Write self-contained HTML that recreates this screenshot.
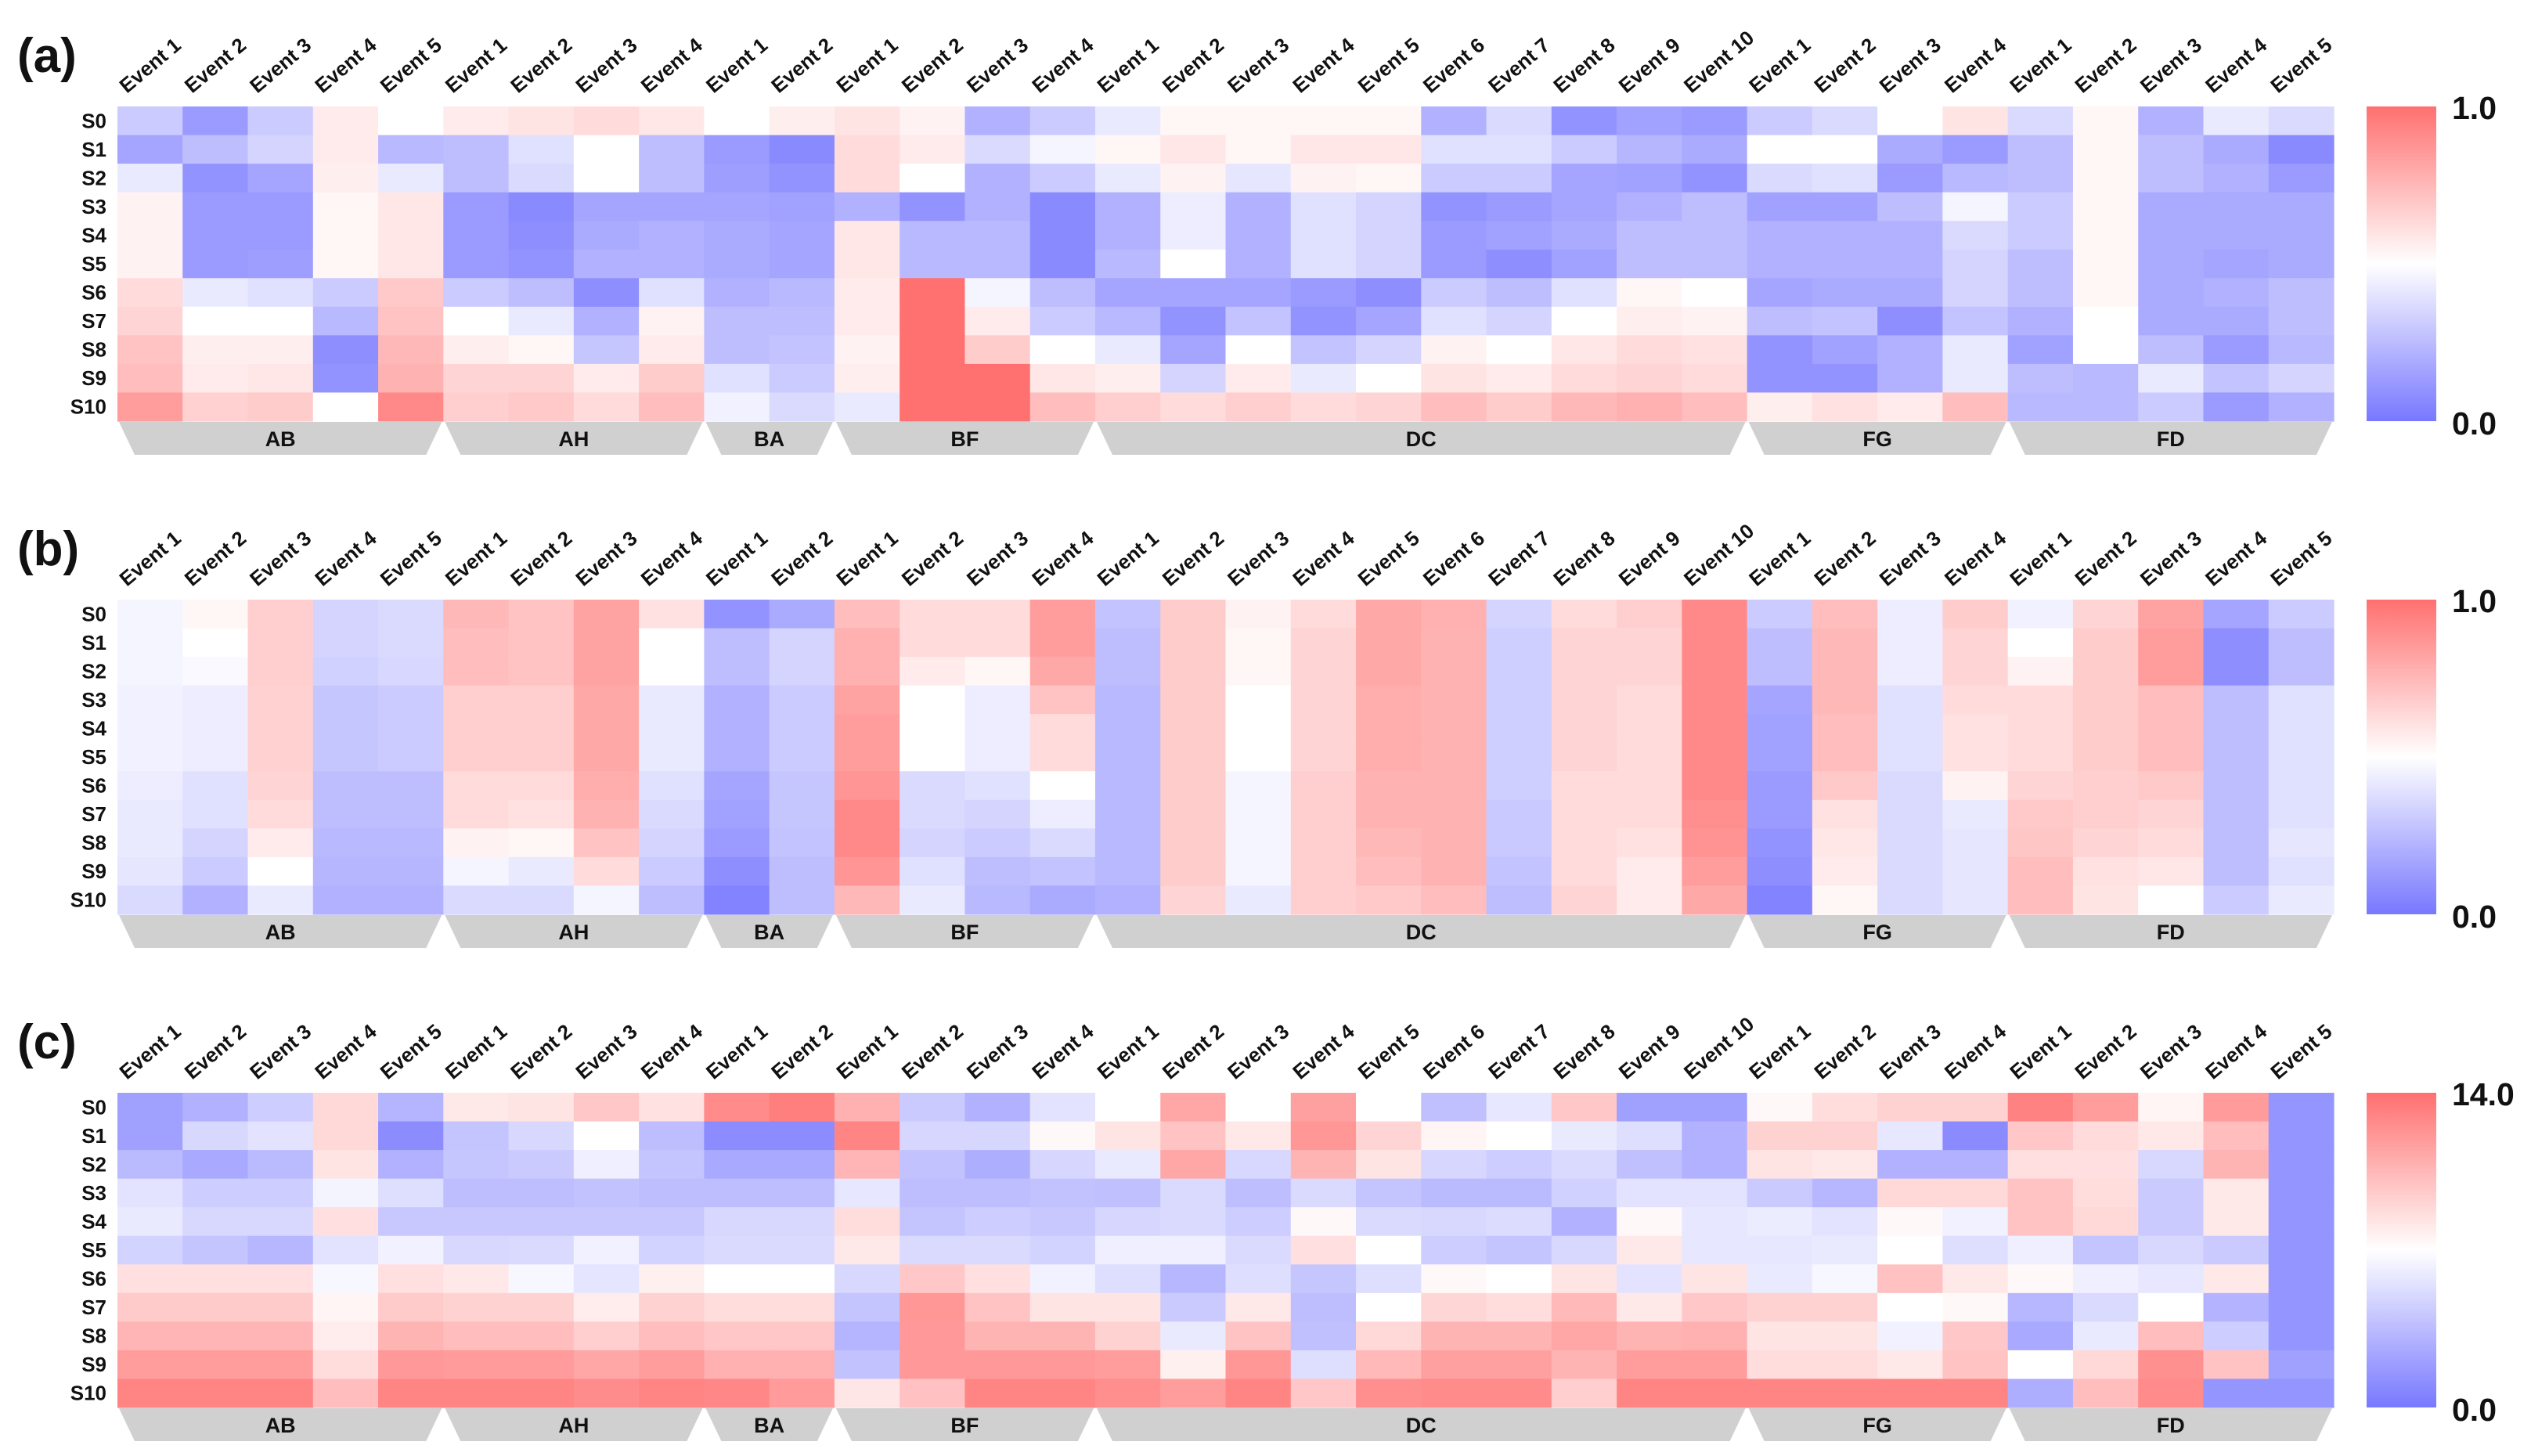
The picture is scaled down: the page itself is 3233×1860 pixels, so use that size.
<!DOCTYPE html>
<html><head><meta charset="utf-8"><style>
html,body{margin:0;padding:0;background:#fff;}
svg{display:block;font-family:"Liberation Sans",Arial,sans-serif;}
</style></head><body>
<svg id="fig" width="3233" height="1860" viewBox="0 0 3233 1860" xmlns="http://www.w3.org/2000/svg">
<defs>
<linearGradient id="cbar" x1="0" y1="0" x2="0" y2="1">
<stop offset="0" stop-color="#ff7070"/><stop offset="0.5" stop-color="#ffffff"/><stop offset="1" stop-color="#7878ff"/>
</linearGradient>
</defs>
</svg>
<script>
const groupNames = ["AB","AH","BA","BF","DC","FG","FD"];
const groupSizes = [5,4,2,4,10,4,5];
const rowLabels = ["S0","S1","S2","S3","S4","S5","S6","S7","S8","S9","S10"];
const panelLabels = ["(a)","(b)","(c)"];
const panelMax = [1.0, 1.0, 14.0];
const maxLabels = ["1.0","1.0","14.0"];
const minLabels = ["0.0","0.0","0.0"];

const panelA = [
[.35,.15,.35,.55,.5, .55,.57,.6,.56, .5,.54, .57,.53,.25,.35, .45,.52,.52,.52,.52,.25,.4,.12,.18,.15, .35,.4,.5,.57, .4,.52,.25,.45,.4],
[.2,.3,.38,.55,.28, .3,.42,.5,.3, .15,.08, .6,.55,.4,.48, .52,.56,.52,.56,.56,.42,.42,.35,.27,.22, .5,.5,.22,.15, .3,.52,.3,.22,.08],
[.45,.12,.2,.54,.45, .3,.4,.5,.3, .17,.12, .6,.5,.25,.35, .45,.53,.44,.53,.52,.35,.35,.2,.18,.12, .4,.42,.15,.28, .3,.52,.3,.25,.15],
[.53,.15,.15,.52,.56, .15,.08,.2,.2, .2,.18, .25,.12,.25,.08, .25,.46,.25,.42,.38,.12,.15,.2,.25,.3, .18,.18,.3,.48, .35,.52,.22,.22,.22],
[.53,.15,.15,.52,.56, .15,.1,.22,.25, .22,.2, .56,.28,.28,.08, .25,.46,.25,.42,.38,.15,.18,.22,.3,.3, .25,.25,.25,.4, .35,.52,.22,.22,.22],
[.53,.15,.17,.52,.56, .15,.12,.25,.25, .22,.2, .56,.28,.28,.08, .28,.5,.25,.42,.38,.15,.1,.18,.3,.3, .25,.25,.25,.38, .3,.52,.22,.2,.22],
[.6,.45,.42,.35,.66, .35,.3,.1,.42, .25,.28, .55,1.0,.48,.3, .2,.2,.2,.15,.1,.35,.3,.42,.52,.5, .2,.22,.22,.38, .3,.52,.22,.25,.3],
[.62,.5,.5,.28,.68, .5,.45,.25,.53, .3,.3, .55,1.0,.55,.35, .28,.12,.32,.12,.2,.42,.38,.5,.54,.53, .3,.32,.1,.32, .25,.5,.22,.22,.3],
[.68,.54,.54,.1,.72, .54,.52,.33,.55, .3,.32, .53,1.0,.65,.5, .45,.2,.5,.32,.38,.53,.5,.56,.6,.58, .12,.18,.25,.45, .18,.5,.3,.15,.28],
[.7,.55,.56,.12,.74, .62,.62,.55,.65, .42,.35, .54,1.0,1.0,.56, .54,.38,.55,.45,.5,.57,.55,.6,.62,.6, .12,.12,.25,.45, .3,.28,.45,.32,.38],
[.82,.63,.65,.5,.9, .64,.66,.6,.7, .47,.4, .45,1.0,1.0,.7, .64,.6,.64,.6,.62,.7,.65,.72,.75,.7, .54,.58,.55,.7, .28,.28,.35,.15,.25]
];

const panelB = [
[.48,.52,.64,.38,.4, .72,.68,.8,.58, .12,.22, .7,.6,.6,.82, .32,.65,.53,.6,.78,.75,.38,.6,.64,.9, .35,.7,.46,.65, .47,.62,.8,.2,.35],
[.48,.5,.64,.38,.4, .7,.68,.8,.5, .3,.38, .75,.6,.6,.82, .3,.65,.52,.62,.78,.74,.36,.62,.62,.9, .3,.72,.46,.62, .5,.65,.82,.1,.3],
[.48,.49,.64,.37,.39, .7,.68,.8,.5, .3,.38, .75,.55,.52,.78, .3,.65,.52,.62,.78,.74,.36,.62,.62,.9, .3,.72,.46,.62, .53,.65,.82,.1,.3],
[.47,.46,.63,.33,.35, .64,.64,.78,.45, .25,.35, .8,.5,.46,.68, .28,.65,.5,.62,.76,.74,.36,.62,.6,.9, .2,.72,.42,.6, .6,.65,.7,.3,.42],
[.47,.46,.63,.33,.35, .64,.64,.78,.45, .25,.35, .82,.5,.46,.6, .28,.65,.5,.62,.76,.74,.36,.62,.6,.9, .18,.7,.42,.58, .6,.65,.7,.3,.42],
[.47,.46,.63,.33,.35, .64,.64,.78,.45, .25,.35, .82,.5,.46,.6, .28,.65,.5,.62,.76,.74,.36,.62,.6,.9, .18,.7,.42,.58, .6,.65,.7,.3,.42],
[.46,.42,.62,.3,.3, .6,.6,.76,.42, .2,.33, .85,.4,.42,.5, .28,.65,.48,.64,.74,.74,.36,.6,.6,.9, .15,.66,.4,.53, .62,.64,.66,.3,.42],
[.45,.42,.6,.3,.3, .6,.58,.74,.4, .18,.33, .9,.4,.38,.46, .28,.65,.48,.64,.74,.74,.34,.6,.6,.88, .15,.58,.4,.45, .66,.64,.62,.3,.42],
[.45,.38,.55,.28,.28, .53,.52,.68,.38, .15,.32, .9,.38,.35,.4, .28,.65,.48,.64,.72,.74,.34,.6,.58,.86, .12,.56,.4,.44, .67,.62,.6,.3,.44],
[.44,.35,.5,.27,.27, .48,.45,.6,.35, .1,.3, .85,.42,.3,.32, .28,.65,.48,.64,.7,.74,.32,.6,.55,.82, .1,.55,.4,.44, .7,.58,.56,.3,.42],
[.4,.25,.45,.25,.25, .4,.4,.48,.3, .05,.3, .72,.45,.28,.22, .25,.62,.45,.64,.66,.7,.3,.62,.55,.78, .05,.52,.4,.44, .7,.57,.5,.35,.45]
];

const panelC = [
[2.5,3.5,5,8.5,3.7, 7.8,8,9.3,8.1, 12.5,13.2, 10.5,4.8,3.5,6, 7,11,7,11.3,7,4.3,6.2,9.3,2.5,2.5, 7.2,8.3,8.8,8.8, 13,11.5,7.3,11.6,1.8],
[2.5,5.5,6,8.5,1.3, 4.5,5.5,7,4.2, 1.3,1.3, 12.8,5.4,5.4,7.2, 8,9.5,7.8,11.8,8.7,7.3,7,6.3,5.8,3.5, 8.8,8.8,6.2,1.2, 9.3,8.4,7.8,9.8,1.8],
[4,3,4,8,3.5, 4.6,4.8,6.5,4.5, 3,3, 10.2,4.4,3.3,5.4, 6.3,11,5.5,10.3,8,5.4,5,5.6,4.3,3.5, 8,7.8,3.5,3.5, 8.2,8.2,5.5,10.3,1.8],
[6,5,5,6.7,5.8, 4.2,4.2,4.4,4.2, 4.2,4.2, 6.2,4.2,4.2,4.4, 4.3,5.6,4.2,5.6,4.5,4,4,5.2,6,6, 4.8,3.8,8.5,8.5, 9.5,8.3,4.8,7.8,1.8],
[6.3,5.5,5.5,8.2,4.7, 4.7,4.7,4.7,4.7, 5.5,5.5, 8.3,4.5,5,4.7, 5.4,5.6,5,7.2,5.6,5.5,5.7,3.5,7.2,6.2, 6.4,6,7.2,6.6, 9.5,8.5,4.8,7.8,1.8],
[5.3,4.5,3.8,6,6.6, 5.5,5.6,6.6,5.3, 5.6,5.6, 7.8,5.6,5.6,5.3, 6.5,6.5,5.6,8.2,7,5,4.5,5.5,7.8,6.2, 6.2,6.3,7,5.8, 6.5,4.5,5.5,4.8,1.8],
[8.2,8.2,8.2,6.8,8.2, 7.8,6.8,6.1,7.5, 7,7, 5.5,9.3,8.2,6.6, 5.8,3.8,5.8,4.6,5.8,7.2,7,8,6,8, 6.3,6.8,9.6,7.8, 7.2,6.5,6.2,7.8,1.8],
[9.2,9.2,9.2,7.3,9.2, 8.8,8.8,7.6,8.8, 8.3,8.3, 4.5,11.8,9.5,8, 8,4.8,7.8,4.2,7,8.6,8.3,10,7.8,9.3, 8.8,8.8,7,7.2, 3.8,5.6,7,3.6,1.8],
[10.2,10.2,10.2,7.6,10.3, 9.8,9.8,9,9.8, 9.3,9.3, 3.7,11.7,10.3,10.3, 8.8,6.3,9.5,4.3,8.5,10.3,10.3,11,10.3,10.5, 8,8,6.6,9.3, 3,6.3,9.8,5,1.8],
[11.5,11.5,11.5,8.3,11.7, 11.6,11.6,11,11.5, 10.5,10.5, 4.4,11.7,11.7,11.7, 11.5,7.5,11.8,5.8,10,11.3,11.3,10.3,11.5,11.5, 8.3,8.3,7.8,9.5, 7,8.5,12.2,9.5,2.5],
[12.8,12.8,12.8,9.8,12.8, 12.8,12.8,12.4,12.8, 12.7,11.6, 7.9,9.6,12.8,12.8, 12.3,11.5,12.8,9.3,12.3,12.5,12.5,9,12.8,12.8, 12.8,12.8,12.8,12.8, 3.3,9.8,12.5,1.8,1.8]
];

const panels = [panelA, panelB, panelC];
const NS = "http://www.w3.org/2000/svg";
const svg = document.getElementById("fig");
const X0 = 150, X1 = 2981, Y0 = 136, H = 402, PANEL_DY = 630;
const nCols = groupSizes.reduce((a,b)=>a+b,0);
const CW = (X1 - X0) / nCols;
const RH = H / rowLabels.length;
function xScale(c){ return X0 + c*CW; }
function yScale(r, p){ return Y0 + p*PANEL_DY + r*RH; }
function color(t){
  t = Math.max(0, Math.min(1, t));
  const b=[120,120,255], w=[255,255,255], r=[255,112,112];
  let a, c, u;
  if (t < 0.5){ a=w; c=b; u=Math.pow((0.5-t)/0.5, 0.8); } else { a=w; c=r; u=Math.pow((t-0.5)/0.5, 0.85); }
  return "rgb(" + a.map((v,i)=>Math.round(v+(c[i]-v)*u)).join(",") + ")";
}
function mk(tag, attrs, parent){
  const e = document.createElementNS(NS, tag);
  for (const k in attrs) e.setAttribute(k, attrs[k]);
  (parent||svg).appendChild(e);
  return e;
}

panels.forEach((data, p) => {
  const g = mk("g", {});
  
  
  const oy = p*PANEL_DY;
  const pl = mk("text", {x: 22, y: 92+oy, "font-size": 62, "font-weight": "bold", fill: "#111"}, g);
  pl.textContent = panelLabels[p];
  
  
  data.forEach((row, r) => {
    row.forEach((v, c) => {
      const rect = mk("rect", {x: xScale(c).toFixed(2), y: yScale(r,p).toFixed(2), width: (CW+0.6).toFixed(2), height: (RH+0.6).toFixed(2), fill: color(v / panelMax[p])}, g);
      
      
    });
  });
  rowLabels.forEach((lab, r) => {
    const t = mk("text", {x: 136, y: (yScale(r,p)+RH/2+9).toFixed(1), "font-size": 26, "font-weight": "bold", "text-anchor": "end", fill: "#111"}, g);
    t.textContent = lab;
    
    
  });
  let c0 = 0;
  groupSizes.forEach((n, gi) => {
    for (let k = 0; k < n; k++){
      const cx = xScale(c0 + k) + 12, cy = 120 + oy;
      const t = mk("text", {x: cx.toFixed(1), y: cy, "font-size": 26, "font-weight": "bold", fill: "#111", transform: "rotate(-40 " + cx.toFixed(1) + " " + cy + ")"}, g);
      t.textContent = "Event " + (k+1);
      
      
    }
    const xl = xScale(c0) + 2, xr = xScale(c0+n) - 2;
    const yt = Y0 + H + oy + 1, yb = yt + 42;
    const poly = mk("polygon", {points: `${xl},${yt} ${xr},${yt} ${xr-20},${yb} ${xl+20},${yb}`, fill: "#d0d0d0"}, g);
    
    
    const gt = mk("text", {x: ((xl+xr)/2).toFixed(1), y: yt + 31, "font-size": 27, "font-weight": "bold", "text-anchor": "middle", fill: "#111"}, g);
    gt.textContent = groupNames[gi];
    
    
    c0 += n;
  });
  const cb = mk("rect", {x: 3023, y: Y0 + oy, width: 89, height: H, fill: "url(#cbar)"}, g);
  
  
  const tmax = mk("text", {x: 3132, y: 152 + oy, "font-size": 41, "font-weight": "bold", fill: "#111"}, g);
  tmax.textContent = maxLabels[p];
  
  
  const tmin = mk("text", {x: 3132, y: 555 + oy, "font-size": 41, "font-weight": "bold", fill: "#111"}, g);
  tmin.textContent = minLabels[p];
  
  
});
</script>
</body></html>
